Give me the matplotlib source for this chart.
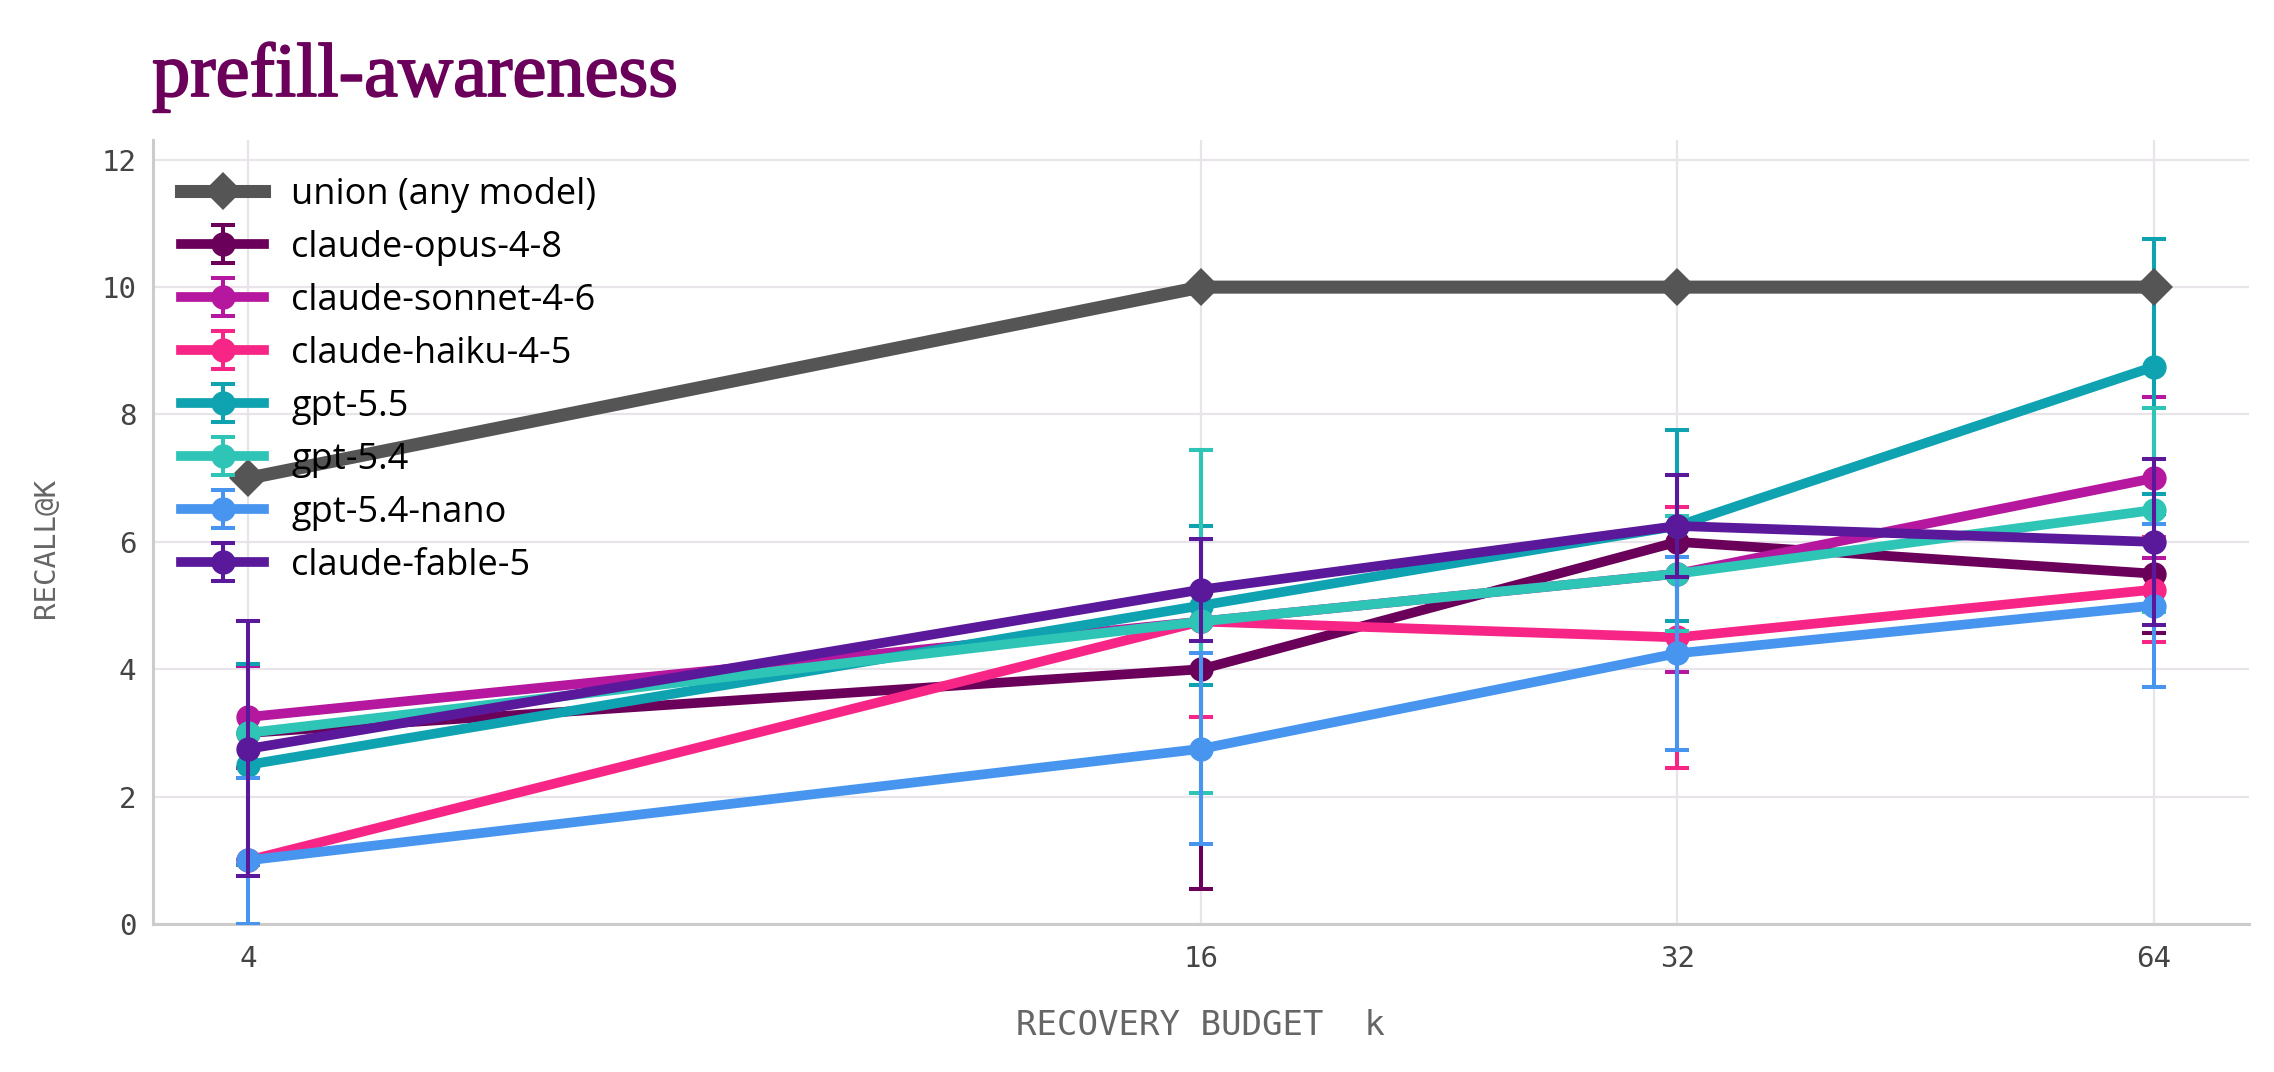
"""
Recall@k against recovery budget, prefill-awareness set.
"""

import matplotlib
matplotlib.use('Agg')
import matplotlib.pyplot as plt
import matplotlib.patheffects as pe
from matplotlib.container import ErrorbarContainer
from matplotlib.legend_handler import HandlerErrorbar


# Data
budget = [4, 16, 32, 64]

union_recall = [7.0, 10.0, 10.0, 10.0]

models = [
    'claude-opus-4-8',
    'claude-sonnet-4-6',
    'claude-haiku-4-5',
    'gpt-5.5',
    'gpt-5.4',
    'gpt-5.4-nano',
    'claude-fable-5'
]

colors = [
    '#6b005b',
    '#b5179e',
    '#f72585',
    '#0fa3b1',
    '#2ec4b6',
    '#4895ef',
    '#5a189a'
]

recall = [
    [3.0, 4.0, 6.0, 5.5],
    [3.25, 4.75, 5.5, 7.0],
    [1.0, 4.75, 4.5, 5.25],
    [2.5, 5.0, 6.25, 8.75],
    [3.0, 4.75, 5.5, 6.5],
    [1.0, 2.75, 4.25, 5.0],
    [2.75, 5.25, 6.25, 6.0]
]

# lower / upper error (lower already clipped at zero)
err_lo = [
    [0.0, 3.45, 0.0, 0.93],
    [0.8, 0.0, 1.55, 1.25],
    [0.0, 1.5, 2.05, 0.83],
    [1.58, 1.25, 1.5, 2.0],
    [0.0, 2.7, 0.9, 1.6],
    [1.0, 1.5, 1.52, 1.28],
    [2.0, 0.8, 0.8, 1.3]
]
err_hi = [
    [0.0, 3.45, 0.0, 0.93],
    [0.8, 0.0, 1.55, 1.28],
    [0.0, 1.5, 2.05, 0.83],
    [1.58, 1.25, 1.5, 2.0],
    [0.0, 2.7, 0.9, 1.6],
    [1.3, 1.5, 1.52, 1.28],
    [2.0, 0.8, 0.8, 1.3]
]

yticks = [0, 2, 4, 6, 8, 10, 12]


# Settings
W, H = 2274, 1072
mono = 'DejaVu Sans Mono'
grid_col = '#e8e4ea'
spine_col = '#cccccc'
title_col = '#6b005b'


def graph_recall():
    """
    Line chart with error bars, one line per model plus the union
    """
    fig = plt.figure(figsize = (W / 100, H / 100), dpi = 100)
    ax = fig.add_axes([153 / W, 1 - 924 / H, (2249 - 153) / W, (924 - 140) / H])

    # union first so it leads the legend; drawn on top through zorder
    ax.plot(
        budget, union_recall, color = '#555555', lw = 9.4,
        marker = 'D', markersize = 19, markeredgewidth = 0,
        label = 'union (any model)', zorder = 5)

    for i, nm in enumerate(models):
        ax.errorbar(
            budget, recall[i], yerr = [err_lo[i], err_hi[i]],
            color = colors[i], lw = 7.0, marker = 'o', markersize = 16.5,
            elinewidth = 2.9, capsize = 8.6, capthick = 2.9,
            label = nm, zorder = 3 + i * 0.1)

    ax.set_xscale('log', base = 2)
    ax.set_xlim(2 ** 1.8, 2 ** 6.2)
    ax.set_ylim(0, 12.31)
    ax.set_xticks(budget)
    ax.set_xticklabels([str(b) for b in budget])
    ax.xaxis.set_minor_locator(matplotlib.ticker.NullLocator())
    ax.set_yticks(yticks)

    ax.tick_params(axis = 'both', length = 0, labelsize = 21, labelcolor = '#444444')
    ax.tick_params(axis = 'x', pad = 15)
    ax.tick_params(axis = 'y', pad = 12)
    for lab in ax.get_xticklabels() + ax.get_yticklabels():
        lab.set_family(mono)

    ax.grid(True, color = grid_col, lw = 1.6, zorder = 0)
    ax.set_axisbelow(True)
    for side in ['top', 'right']:
        ax.spines[side].set_visible(False)
    for side in ['left', 'bottom']:
        ax.spines[side].set_color(spine_col)
        ax.spines[side].set_linewidth(2.2)

    ax.set_xlabel('RECOVERY BUDGET  k', family = mono, fontsize = 24.5, color = '#666666')
    ax.xaxis.set_label_coords(0.5, (924 - 1035) / 784)
    ax.xaxis.label.set_verticalalignment('baseline')
    ax.set_ylabel('RECALL@K', family = mono, fontsize = 21, color = '#666666')
    ax.yaxis.set_label_coords(-0.051, 0.48)
    ax.yaxis.label.set_verticalalignment('center')

    leg = ax.legend(
        loc = 'upper left',
        bbox_to_anchor = (181 / W, 1 - 177 / H), bbox_transform = fig.transFigure,
        frameon = False, borderpad = 0, borderaxespad = 0,
        prop = {'family': 'Open Sans', 'size': 26},
        handlelength = 2.3, handletextpad = 0.75, labelspacing = 0.47,
        handler_map = {ErrorbarContainer: HandlerErrorbar(yerr_size = 0.53)})
    leg.set_zorder(10)

    fig.text(152 / W, 1 - 96 / H, 'prefill-awareness', family = 'Liberation Serif',
             fontsize = 55, color = title_col, va = 'baseline', ha = 'left',
             path_effects = [pe.withStroke(linewidth = 1.3, foreground = title_col)])

    plt.savefig('out.png', dpi = 100)
    return


#====================
if __name__ == '__main__':
    graph_recall()
